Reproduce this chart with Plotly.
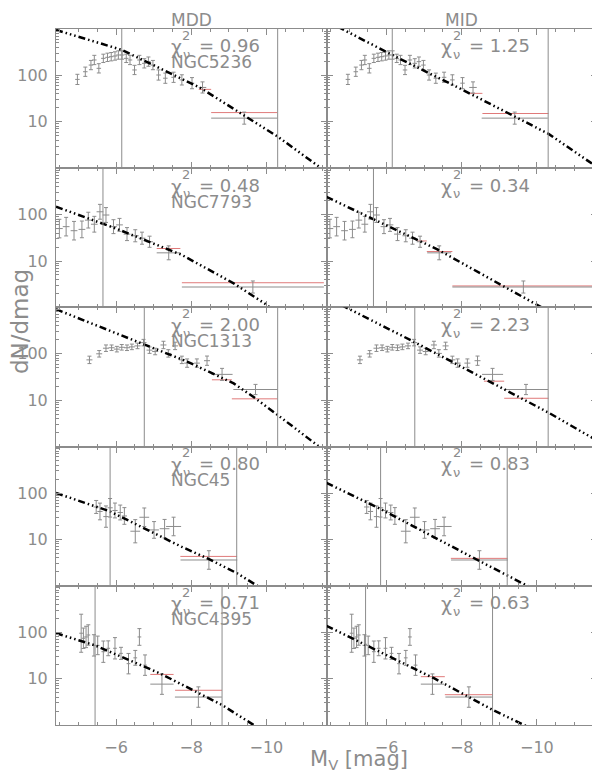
import numpy as np
import plotly.graph_objects as go
from plotly.subplots import make_subplots

# ---- values ----
galaxies = ["NGC5236", "NGC7793", "NGC1313", "NGC45", "NGC4395"]
chi_mdd = [0.96, 0.48, 2.00, 0.80, 0.71]
chi_mid = [1.25, 0.34, 2.23, 0.83, 0.63]

# NGC5236
n5236_mag = [-4.97, -5.18, -5.33, -5.42, -5.54, -5.66, -5.77, -5.87, -5.97, -6.06, -6.16, -6.27,
             -6.37, -6.49, -6.62, -6.75, -6.86, -6.98, -7.13, -7.31, -7.53, -7.75, -8.02, -8.30, -9.41]
n5236_n = [82, 120, 167, 215, 142, 233, 245, 253, 262, 275, 275, 233,
           215, 131, 215, 182, 198, 167, 102, 87, 91, 80, 68, 55, 12]
n5236_err = [0.11, 0.1, 0.1, 0.1, 0.1, 0.09, 0.09, 0.09, 0.09, 0.09, 0.09, 0.09,
             0.1, 0.1, 0.1, 0.1, 0.1, 0.1, 0.11, 0.11, 0.11, 0.11, 0.12, 0.12, 0.13]
n5236_dm = [0.06] * 23 + [0.1, 0.88]
n5236_lim = [-6.15, -10.3]
n5236_mdd_mag = [-4.4, -6.15, -8.24, -9.39, -10.3, -11.41]
n5236_mdd_n = [955, 355, 54, 14.1, 4.8, 1.07]
n5236_mid_mag = [-4.7, -6.15, -8.0, -10.31, -11.57]
n5236_mid_n = [1120, 275, 50, 5.5, 1.1]
n5236_mdd_red = [[-8.2, -8.53, 50], [-8.53, -10.29, 15.8]]
n5236_mid_red = [[-8.2, -8.55, 41], [-8.55, -10.31, 15.1]]

# NGC7793
n7793_mag = [-4.49, -4.67, -4.88, -5.09, -5.26, -5.42, -5.57, -5.73, -5.93, -6.09, -6.29,
             -6.51, -6.69, -6.89, -7.40, -9.64]
n7793_n = [50, 55, 45, 48, 76, 62, 115, 98, 55, 60, 38, 35, 31, 26, 15, 2.75]
n7793_err = [0.2, 0.2, 0.2, 0.18, 0.17, 0.17, 0.16, 0.16, 0.15, 0.14, 0.14, 0.13, 0.13, 0.12, 0.15, 0.13]
n7793_dm = [0.09] * 14 + [0.32, 1.89]
n7793_lim = [-5.65]
n7793_mdd_mag = [-4.4, -6.0, -7.75, -9.13, -10.02, -10.15]
n7793_mdd_n = [148, 50, 13.5, 3.3, 1.12, 0.9]
n7793_mid_mag = [-4.4, -7.35, -9.13, -10.06, -10.2]
n7793_mid_n = [240, 17.8, 2.8, 1.07, 0.93]
n7793_mdd_red = [[-7.08, -7.71, 18.6], [-7.75, -11.53, 3.4]]
n7793_mid_red = [[-6.82, -7.07, 27], [-7.07, -7.75, 16], [-7.75, -11.6, 2.9]]

# NGC1313
n1313_mag = [-5.29, -5.55, -5.73, -5.88, -6.02, -6.15, -6.29, -6.42, -6.57, -6.73, -6.89,
             -7.04, -7.26, -7.39, -7.57, -7.75, -7.89, -8.15, -8.42, -8.82, -9.71]
n1313_n = [74, 100, 132, 135, 126, 138, 135, 141, 148, 174, 120,
           112, 155, 102, 148, 74, 63, 63, 71, 36, 17]
n1313_err = [0.08, 0.07, 0.07, 0.06, 0.06, 0.06, 0.06, 0.06, 0.06, 0.07, 0.07,
             0.07, 0.08, 0.08, 0.08, 0.08, 0.09, 0.09, 0.1, 0.13, 0.11]
n1313_dm = [0.08] * 19 + [0.28, 0.59]
n1313_lim = [-6.75, -10.3]
n1313_mdd_mag = [-4.4, -6.75, -7.89, -9.13, -9.66, -10.3, -11.39, -11.5]
n1313_mdd_n = [912, 158, 68, 23, 11.7, 4.8, 1.02, 0.87]
n1313_mid_mag = [-4.8, -6.77, -10.31, -11.6]
n1313_mid_n = [1120, 174, 5.4, 1.35]
n1313_mdd_red = [[-8.55, -9.08, 27.5], [-9.08, -10.30, 10.7]]
n1313_mid_red = [[-8.59, -9.13, 25.7], [-9.13, -10.31, 11.0]]

# NGC45
n45_mag = [-5.47, -5.57, -5.73, -5.84, -5.97, -6.11, -6.22, -6.51, -6.75, -7.01, -7.29, -7.53, -8.47]
n45_n = [50, 40, 31, 48, 42, 38, 32, 15, 30, 16, 17, 19, 3.6]
n45_err = [0.14, 0.18, 0.23, 0.2, 0.16, 0.16, 0.18, 0.25, 0.2, 0.18, 0.2, 0.2, 0.2]
n45_dm = [0.07] * 7 + [0.13, 0.13, 0.13, 0.13, 0.2, 0.755]
n45_lim = [-5.84, -9.21]
n45_mdd_mag = [-4.4, -5.84, -7.75, -8.46, -9.22, -9.75, -9.9]
n45_mdd_n = [100, 40, 6.9, 3.8, 1.86, 1.0, 0.85]
n45_mid_mag = [-4.4, -5.84, -8.42, -9.75, -9.9]
n45_mid_n = [165, 45, 3.6, 1.0, 0.86]
n45_mdd_red = [[-7.71, -9.22, 4.3]]
n45_mid_red = [[-7.71, -9.22, 3.9]]

# NGC4395
n4395_mag = [-5.07, -5.13, -5.20, -5.26, -5.41, -5.51, -5.66, -5.79, -5.97, -6.13, -6.33,
             -6.51, -6.62, -6.77, -7.22, -8.19]
n4395_n = [95, 74, 79, 87, 52, 52, 38, 45, 45, 35, 21, 28, 79, 19.5, 7.6, 4.0]
n4395_err = [0.41, 0.22, 0.23, 0.22, 0.23, 0.2, 0.23, 0.16, 0.23, 0.13, 0.22,
             0.16, 0.18, 0.22, 0.22, 0.22]
n4395_dm = [0.05] * 14 + [0.31, 0.625]
n4395_lim = [-5.44, -8.82]
n4395_mdd_mag = [-4.4, -5.44, -7.17, -8.19, -8.82, -9.66, -9.8]
n4395_mdd_n = [95, 52, 12.9, 4.8, 2.7, 1.0, 0.88]
n4395_mid_mag = [-4.4, -7.26, -8.83, -9.66, -9.8]
n4395_mid_n = [137, 10.2, 2.1, 1.0, 0.88]
n4395_mdd_red = [[-6.91, -7.53, 12.3], [-7.57, -8.82, 5.6]]
n4395_mid_red = [[-6.91, -7.55, 11.0], [-7.55, -8.83, 4.5]]

panels = [
    dict(mag=n5236_mag, n=n5236_n, err=n5236_err, dm=n5236_dm, lim=n5236_lim,
         fits=[(n5236_mdd_mag, n5236_mdd_n, n5236_mdd_red), (n5236_mid_mag, n5236_mid_n, n5236_mid_red)]),
    dict(mag=n7793_mag, n=n7793_n, err=n7793_err, dm=n7793_dm, lim=n7793_lim,
         fits=[(n7793_mdd_mag, n7793_mdd_n, n7793_mdd_red), (n7793_mid_mag, n7793_mid_n, n7793_mid_red)]),
    dict(mag=n1313_mag, n=n1313_n, err=n1313_err, dm=n1313_dm, lim=n1313_lim,
         fits=[(n1313_mdd_mag, n1313_mdd_n, n1313_mdd_red), (n1313_mid_mag, n1313_mid_n, n1313_mid_red)]),
    dict(mag=n45_mag, n=n45_n, err=n45_err, dm=n45_dm, lim=n45_lim,
         fits=[(n45_mdd_mag, n45_mdd_n, n45_mdd_red), (n45_mid_mag, n45_mid_n, n45_mid_red)]),
    dict(mag=n4395_mag, n=n4395_n, err=n4395_err, dm=n4395_dm, lim=n4395_lim,
         fits=[(n4395_mdd_mag, n4395_mdd_n, n4395_mdd_red), (n4395_mid_mag, n4395_mid_n, n4395_mid_red)]),
]

GREY = "#8c8c8c"
RED = "#e07a7a"
FONT = "DejaVu Sans"
DASH = "7px,3px,1.5px,3px,1.5px,3px,1.5px,3px"

fig = make_subplots(rows=5, cols=2, horizontal_spacing=0, vertical_spacing=0)

def domain_refs(r, c):
    i = r * 2 + c + 1
    s = "" if i == 1 else str(i)
    return "x%s domain" % s, "y%s domain" % s

def text(xr, yr, x, y, t, size, anchor="left", yanchor="middle"):
    fig.add_annotation(xref=xr, yref=yr, x=x, y=y, text=t, showarrow=False,
                       xanchor=anchor, yanchor=yanchor,
                       font=dict(family=FONT, size=size, color=GREY))

for r, p in enumerate(panels):
    n = np.array(p["n"], dtype=float)
    e = np.array(p["err"])
    for c, (fmag, fn, red) in enumerate(p["fits"]):
        row, col = r + 1, c + 1
        # model value in the bins (red)
        xs, ys = [], []
        for lo, hi, v in red:
            xs += [lo, hi, None]
            ys += [v, v, None]
        fig.add_trace(go.Scatter(x=xs, y=ys, mode="lines", line=dict(color=RED, width=1),
                                 hoverinfo="skip"), row=row, col=col)
        # observed LF with error bars only (no symbol)
        fig.add_trace(go.Scatter(
            x=p["mag"], y=n, mode="markers", marker=dict(size=2, opacity=0, color=GREY),
            error_y=dict(type="data", array=n * (10 ** e - 1), arrayminus=n * (1 - 10 ** -e),
                         color=GREY, thickness=1, width=2),
            error_x=dict(type="data", array=p["dm"], color=GREY, thickness=1, width=0)),
            row=row, col=col)
        # fitted model
        fig.add_trace(go.Scatter(x=fmag, y=fn, mode="lines",
                                 line=dict(color="black", width=2.5, dash=DASH)),
                      row=row, col=col)
        for m in p["lim"]:
            fig.add_vline(x=m, line=dict(color=GREY, width=1), row=row, col=col)

        # chi^2_nu label with stacked super/subscript
        xr, yr = domain_refs(r, c)
        chi = chi_mdd[r] if c == 0 else chi_mid[r]
        text(xr, yr, 0.445, 0.868, "χ", 19, "center")
        text(xr, yr, 0.482, 0.955, "2", 13, "center")
        text(xr, yr, 0.482, 0.815, "ν", 13, "center")
        text(xr, yr, 0.521, 0.878, "= %.2f" % chi, 18)
        if c == 0:
            text(xr, yr, 0.418, 0.76, galaxies[r], 17)

x_minor = [-4.5 - 0.5 * k for k in range(15)]
y_minor = [m * 10 ** k for k in range(3) for m in range(2, 10)]

fig.update_xaxes(range=[-4.4, -11.6], tickmode="array", tickvals=[-6, -8, -10],
                 ticktext=["−6", "−8", "−10"], ticks="inside", ticklen=6, tickcolor=GREY,
                 showline=True, linecolor=GREY, linewidth=1, mirror="allticks",
                 showgrid=False, zeroline=False, showticklabels=False, automargin=False,
                 ticklabelstandoff=8,
                 tickfont=dict(family=FONT, size=16, color=GREY),
                 minor=dict(tickmode="array", tickvals=x_minor, ticks="inside", ticklen=3,
                            tickcolor=GREY, showgrid=False))
fig.update_xaxes(showticklabels=True, row=5)

fig.update_yaxes(type="log", range=[0, 3], tickmode="array", tickvals=[10, 100],
                 ticktext=["10", "100"], ticks="inside", ticklen=6, tickcolor=GREY,
                 showline=True, linecolor=GREY, linewidth=1, mirror="allticks",
                 showgrid=False, zeroline=False, ticklabelstandoff=4, automargin=False,
                 tickfont=dict(family=FONT, size=16, color=GREY),
                 minor=dict(tickmode="array", tickvals=y_minor, ticks="inside", ticklen=3,
                            tickcolor=GREY, showgrid=False))
fig.update_yaxes(showticklabels=False, col=2)

# column titles (as high as the figure allows) and axis titles
text("paper", "paper", 0.25, 1.0302, "MDD", 17, "center", "top")
text("paper", "paper", 0.75, 1.0302, "MID", 17, "center", "top")
fig.add_annotation(xref="paper", yref="paper", x=-0.0665, y=0.579, text="dN/dmag",
                   textangle=-90, showarrow=False, xanchor="center", yanchor="middle",
                   font=dict(family=FONT, size=23, color=GREY))
text("paper", "paper", 0.466, -0.05, "M<sub>V</sub> [mag]", 21)

# the page body adds an 8 px offset, so the figure is 8 px smaller on each side
fig.update_layout(width=592, height=768, showlegend=False,
                  margin=dict(l=48, r=3, t=21, b=51, autoexpand=False),
                  paper_bgcolor="white", plot_bgcolor="white")

fig.write_html("out.html")
